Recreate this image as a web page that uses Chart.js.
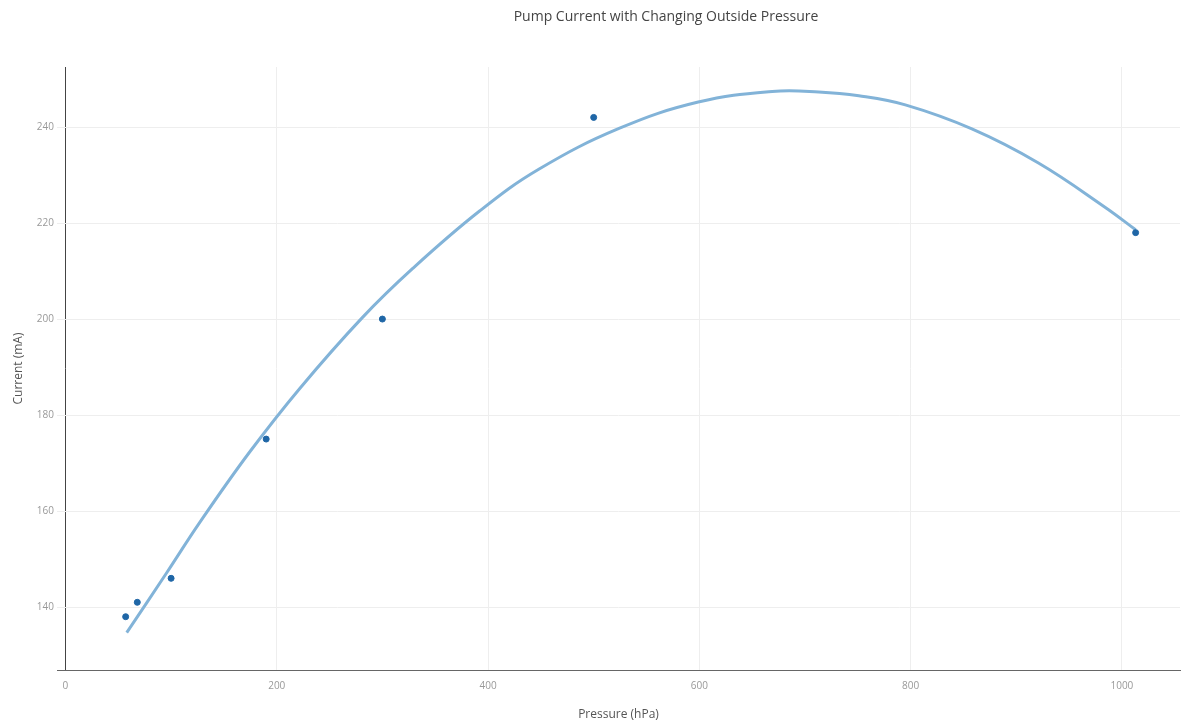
<!DOCTYPE html>
<html>
<head>
<meta charset="utf-8">
<script src="https://cdn.jsdelivr.net/npm/chart.js@4/dist/chart.umd.min.js"></script>
<style>
  html, body { margin: 0; padding: 0; background: #fff; }
  #wrap { width: 1184px; height: 724px; }
</style>
</head>
<body>
<div id="wrap"><canvas id="c" width="1184" height="724"></canvas></div>
<script>
const TITLE = 'Pump Current with Changing Outside Pressure';
const X_TITLE = 'Pressure (hPa)';
const Y_TITLE = 'Current (mA)';

// measured points
const pressure = [57, 68, 100, 190, 300, 500, 1013];
const current  = [138, 141, 146, 175, 200, 242, 218];

// fitted curve
const fitPressure = [58, 96, 127, 174, 222, 281, 329, 392, 448, 524, 599, 669, 713, 751, 795, 858, 921, 984, 1013];
const fitCurrent  = [134.7, 147.2, 157.6, 172.2, 185.6, 200.3, 210.6, 222.5, 231.2, 239.7, 245.2, 247.4, 247.3, 246.5, 244.6, 239.6, 232.5, 223.3, 218.6];

const xTicks = [0, 200, 400, 600, 800, 1000];
const yTicks = [140, 160, 180, 200, 220, 240];

const pts = pressure.map((x, i) => ({ x, y: current[i] }));
const fit = fitPressure.map((x, i) => ({ x, y: fitCurrent[i] }));

const titlePlugin = {
  id: 'topTitle',
  afterDraw(chart) {
    const ctx = chart.ctx;
    ctx.save();
    ctx.font = '14px "Open Sans"';
    ctx.fillStyle = '#444';
    ctx.textAlign = 'center';
    ctx.textBaseline = 'middle';
    ctx.fillText(TITLE, 666, 17);
    ctx.restore();
  }
};

new Chart(document.getElementById('c'), {
  type: 'scatter',
  data: {
    datasets: [
      {
        type: 'line',
        data: fit,
        borderColor: '#82b3d8',
        borderWidth: 3,
        pointRadius: 0,
        fill: false,
        tension: 0.4,
        order: 2
      },
      {
        data: pts,
        backgroundColor: '#1f66a6',
        borderColor: '#1f66a6',
        pointRadius: 3,
        pointHoverRadius: 3,
        order: 1
      }
    ]
  },
  plugins: [titlePlugin],
  options: {
    responsive: false,
    animation: false,
    events: [],
    layout: { padding: { top: 67, right: 2, left: 0, bottom: 0 } },
    plugins: { legend: { display: false }, tooltip: { enabled: false }, title: { display: false } },
    scales: {
      x: {
        type: 'linear',
        min: -8,
        max: 1055,
        afterFit(s) { s.height = 54; },
        afterBuildTicks(s) { s.ticks = xTicks.map(v => ({ value: v })); },
        grid: {
          color: (c) => (c.tick && c.tick.value === 0) ? '#444' : '#eeeeee',
          lineWidth: 1,
          drawTicks: false
        },
        border: { display: true, color: '#666', width: 1 },
        ticks: {
          color: '#999',
          font: { family: '"Open Sans"', size: 10 },
          padding: 10,
          maxRotation: 0,
          callback: (v) => String(v)
        },
        title: {
          display: true,
          text: X_TITLE,
          color: '#555',
          font: { family: '"Open Sans"', size: 12 },
          padding: { top: 0, bottom: 2 }
        }
      },
      y: {
        type: 'linear',
        min: 126.9,
        max: 252.5,
        afterFit(s) { s.width = 57; },
        afterBuildTicks(s) { s.ticks = yTicks.map(v => ({ value: v })); },
        grid: { color: '#eeeeee', lineWidth: 1, drawTicks: false },
        border: { display: false },
        ticks: {
          color: '#999',
          font: { family: '"Open Sans"', size: 10 },
          padding: 3,
          callback: (v) => String(v)
        },
        title: {
          display: true,
          text: Y_TITLE,
          color: '#555',
          font: { family: '"Open Sans"', size: 12 },
          padding: { top: 11, bottom: 0 }
        }
      }
    }
  }
});
</script>
</body>
</html>
